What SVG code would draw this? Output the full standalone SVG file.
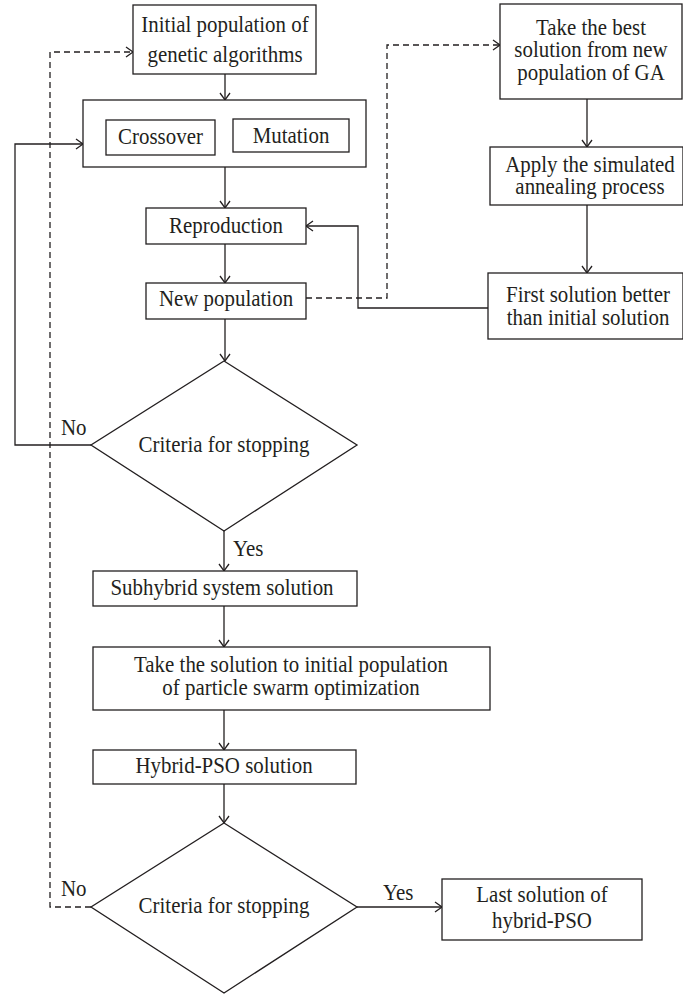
<svg xmlns="http://www.w3.org/2000/svg" width="683" height="996" viewBox="0 0 683 996">
<style>
.box{fill:#fff;stroke:#231f20;stroke-width:1.3}
.ln{fill:none;stroke:#231f20;stroke-width:1.3}
.dash{fill:none;stroke:#231f20;stroke-width:1.3;stroke-dasharray:6 4}
text{font-family:"Liberation Serif","Times New Roman",serif;font-size:22.5px;fill:#231f20}
.c{text-anchor:middle}
</style>
<defs>
<marker id="arr" markerUnits="userSpaceOnUse" markerWidth="12" markerHeight="12" viewBox="-9 -6 10 12" refX="0" refY="0" orient="auto">
<path d="M-7,-5 L0,0 L-7,5" fill="none" stroke="#231f20" stroke-width="1.3"/>
</marker>
</defs>
<rect width="683" height="996" fill="#fff"/>
<g id="connectors">
<path class="ln" d="M225,74 V100" marker-end="url(#arr)"/>
<path class="ln" d="M225,167 V208" marker-end="url(#arr)"/>
<path class="ln" d="M225,244 V283" marker-end="url(#arr)"/>
<path class="ln" d="M225,319 V361" marker-end="url(#arr)"/>
<path class="ln" d="M91,445 H15 V144 H83" marker-end="url(#arr)"/>
<path class="ln" d="M224,531 V571" marker-end="url(#arr)"/>
<path class="ln" d="M224,606 V647" marker-end="url(#arr)"/>
<path class="ln" d="M224,710 V750" marker-end="url(#arr)"/>
<path class="ln" d="M224,784 V823" marker-end="url(#arr)"/>
<path class="ln" d="M357,907 H442" marker-end="url(#arr)"/>
<path class="dash" d="M91,907 H50 V52 H133" marker-end="url(#arr)"/>
<path class="dash" d="M306,298 H387 V45 H500" marker-end="url(#arr)"/>
<path class="ln" d="M587,99 V147" marker-end="url(#arr)"/>
<path class="ln" d="M587,205 V273" marker-end="url(#arr)"/>
<path class="ln" d="M488,308 H358 V226 H306" marker-end="url(#arr)"/>
</g>
<g id="initial">
<rect class="box" x="133" y="5" width="183" height="69"/>
<text class="c" transform="translate(225,32) scale(0.93,1)">Initial population of</text>
<text class="c" transform="translate(225,62) scale(0.93,1)">genetic algorithms</text>
</g>
<g id="operators">
<rect class="box" x="83" y="100" width="283" height="67"/>
</g>
<g id="crossover">
<rect class="box" x="106" y="120" width="109" height="35"/>
<text class="c" transform="translate(160.5,144) scale(0.93,1)">Crossover</text>
</g>
<g id="mutation">
<rect class="box" x="233" y="119" width="116" height="33"/>
<text class="c" transform="translate(291,143) scale(0.93,1)">Mutation</text>
</g>
<g id="reproduction">
<rect class="box" x="146" y="208" width="160" height="36"/>
<text class="c" transform="translate(226,233) scale(0.93,1)">Reproduction</text>
</g>
<g id="newpop">
<rect class="box" x="146" y="283" width="160" height="36"/>
<text class="c" transform="translate(226,306) scale(0.93,1)">New population</text>
</g>
<g id="takebest">
<rect class="box" x="500" y="4" width="182" height="95"/>
<text class="c" transform="translate(591,35) scale(0.93,1)">Take the best</text>
<text class="c" transform="translate(591,57) scale(0.93,1)">solution from new</text>
<text class="c" transform="translate(591,80) scale(0.93,1)">population of GA</text>
</g>
<g id="anneal">
<rect class="box" x="490" y="147" width="193" height="58"/>
<text class="c" transform="translate(590,172) scale(0.93,1)">Apply the simulated</text>
<text class="c" transform="translate(590,194) scale(0.93,1)">annealing process</text>
</g>
<g id="firstsol">
<rect class="box" x="488" y="273" width="195" height="66"/>
<text class="c" transform="translate(588,302) scale(0.93,1)">First solution better</text>
<text class="c" transform="translate(588,325) scale(0.93,1)">than initial solution</text>
</g>
<g id="criteria1">
<polygon class="box" points="224,361 357,445 224,531 91,445"/>
<text class="c" transform="translate(224,452) scale(0.93,1)">Criteria for stopping</text>
<text transform="translate(61,435) scale(0.93,1)">No</text>
<text transform="translate(233,556) scale(0.93,1)">Yes</text>
</g>
<g id="subhybrid">
<rect class="box" x="93" y="571" width="264" height="35"/>
<text class="c" transform="translate(222,595) scale(0.93,1)">Subhybrid system solution</text>
</g>
<g id="takesol">
<rect class="box" x="93" y="647" width="397" height="63"/>
<text class="c" transform="translate(291,672) scale(0.93,1)">Take the solution to initial population</text>
<text class="c" transform="translate(291,695) scale(0.93,1)">of particle swarm optimization</text>
</g>
<g id="hybridpso">
<rect class="box" x="93" y="750" width="263" height="34"/>
<text class="c" transform="translate(224,773) scale(0.93,1)">Hybrid-PSO solution</text>
</g>
<g id="criteria2">
<polygon class="box" points="224,823 357,907 224,993 91,907"/>
<text class="c" transform="translate(224,913) scale(0.93,1)">Criteria for stopping</text>
<text transform="translate(61,896) scale(0.93,1)">No</text>
<text transform="translate(383,900) scale(0.93,1)">Yes</text>
</g>
<g id="lastsol">
<rect class="box" x="442" y="879" width="200" height="61"/>
<text class="c" transform="translate(542,902) scale(0.93,1)">Last solution of</text>
<text class="c" transform="translate(542,928) scale(0.93,1)">hybrid-PSO</text>
</g>
</svg>
